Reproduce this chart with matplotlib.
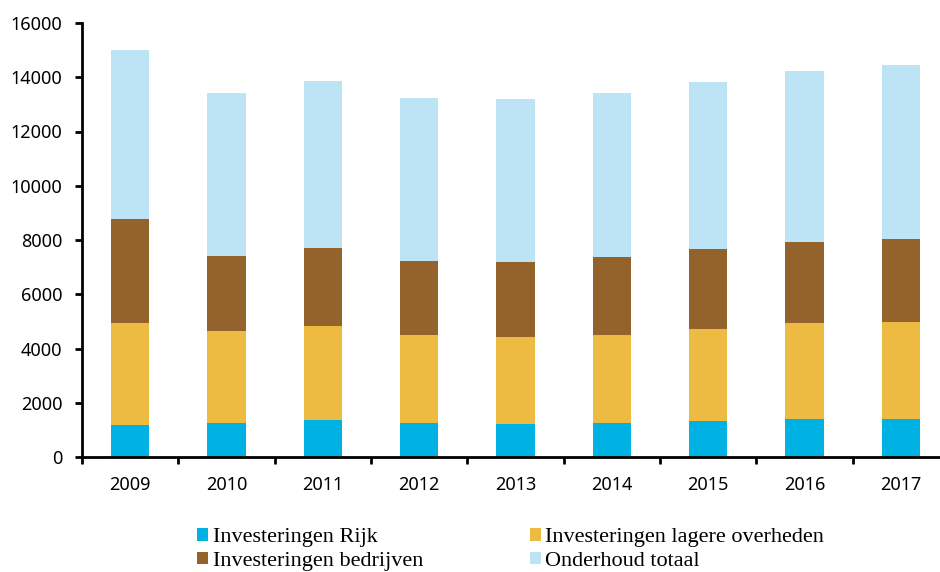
import matplotlib
matplotlib.use("Agg")
import matplotlib.pyplot as plt
import numpy as np

years = ["2009", "2010", "2011", "2012", "2013", "2014", "2015", "2016", "2017"]
rijk = [1170, 1250, 1380, 1240, 1230, 1250, 1310, 1390, 1390]
lagere = [3770, 3410, 3460, 3250, 3190, 3250, 3410, 3540, 3570]
bedrijven = [3830, 2760, 2850, 2750, 2780, 2860, 2950, 3010, 3080]
onderhoud = [6250, 6000, 6180, 6000, 6010, 6050, 6170, 6300, 6420]

labels = ["Investeringen Rijk", "Investeringen lagere overheden",
          "Investeringen bedrijven", "Onderhoud totaal"]
colors = ["#00b2e3", "#eebb42", "#94622b", "#bde4f5"]

fig = plt.figure(figsize=(9.4, 5.72), dpi=100)
ax = fig.add_axes([82 / 940, 115 / 572, 867 / 940, 434 / 572])

x = np.arange(len(years))
bottom = np.zeros(len(years))
handles = []
for vals, lab, col in zip([rijk, lagere, bedrijven, onderhoud], labels, colors):
    b = ax.bar(x, vals, width=0.4, bottom=bottom, color=col, label=lab)
    handles.append(b)
    bottom += np.array(vals)

ax.set_xlim(-0.5, len(years) - 0.5)
ax.set_ylim(0, 16000)
ax.set_yticks(range(0, 16001, 2000))
ax.set_xticks(x)
ax.set_xticklabels(years)
ax.set_xticks(np.arange(-0.5, len(years), 1), minor=True)
ax.tick_params(axis="x", which="major", length=0, pad=14)
ax.tick_params(axis="x", which="minor", length=5, width=2, direction="out")
ax.tick_params(axis="y", length=5, width=2, direction="out", pad=9)
for lbl in ax.get_xticklabels() + ax.get_yticklabels():
    lbl.set_fontfamily("Noto Sans")
    lbl.set_fontsize(13)

ax.spines["top"].set_visible(False)
ax.spines["right"].set_visible(False)
ax.spines["left"].set_linewidth(2)
ax.spines["bottom"].set_linewidth(2)

# row-major order: matplotlib fills legend columns first
order = [0, 2, 1, 3]
fig.legend(handles=[handles[i] for i in order], labels=[labels[i] for i in order],
           ncol=2, loc="upper left",
           bbox_to_anchor=(197 / 940, 1 - 528 / 572), frameon=False,
           borderpad=0, borderaxespad=0,
           handlelength=0.5, handleheight=0.5, handletextpad=0.2,
           columnspacing=4.8, labelspacing=0.2,
           prop={"family": "Liberation Serif", "size": 16})

fig.savefig("out.png", dpi=100)
